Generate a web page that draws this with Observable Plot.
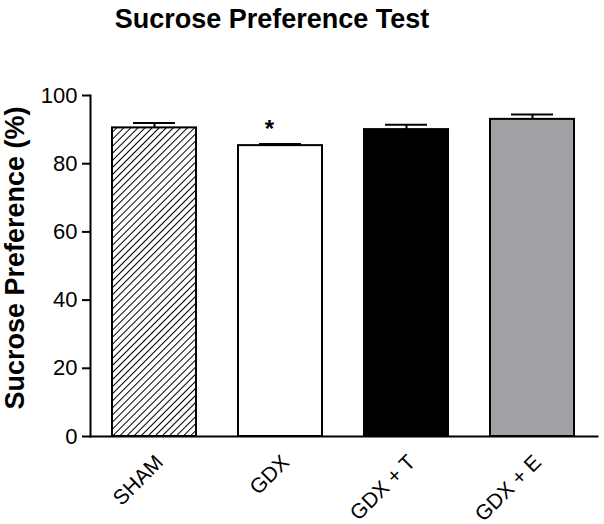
<!DOCTYPE html>
<html>
<head>
<meta charset="utf-8">
<script src="https://cdn.jsdelivr.net/npm/d3@7"></script>
<script src="https://cdn.jsdelivr.net/npm/@observablehq/plot@0.6"></script>
<style>
  body { margin: 0; background: #fff; font-family: "Liberation Sans", Arial, sans-serif; }
  #title { width: 544px; height: 60px; text-align: center; font-weight: bold; font-size: 27px; line-height: 38px; color: #000; }
</style>
</head>
<body>
<div id="title">Sucrose Preference Test</div>
<div id="chart"></div>
<script>
const groups = ["SHAM", "GDX", "GDX + T", "GDX + E"];
const means = [90.5, 85.3, 90.0, 93.0];
const sems = [1.4, 0.5, 1.4, 1.4];
const yTicks = [0, 20, 40, 60, 80, 100];
const sigGroups = ["GDX"];

const data = groups.map((g, i) => ({group: g, mean: means[i], top: means[i] + sems[i]}));
const sig = data.filter(d => sigGroups.includes(d.group));

const font = '"Liberation Sans", Arial, sans-serif';

const plot = Plot.plot({
  width: 604,
  height: 464,
  marginLeft: 90,
  marginRight: 7,
  marginTop: 35,
  marginBottom: 88,
  style: {fontFamily: font, color: "#000", background: "#fff", overflow: "visible"},
  x: {domain: groups, paddingInner: 0.33, paddingOuter: 0.17, axis: null},
  y: {domain: [0, 100], axis: null},
  color: {domain: groups, range: ["url(#hatch)", "#ffffff", "#000000", "#a2a2a6"]},
  marks: [
    Plot.ruleX(data, {x: "group", y1: "mean", y2: "top", stroke: "#000", strokeWidth: 2}),
    Plot.tickY(data, {x: "group", y: "top", stroke: "#000", strokeWidth: 2, inset: 21}),
    Plot.barY(data, {x: "group", y: "mean", fill: "group", stroke: "#000", strokeWidth: 2}),
    Plot.text(sig, {x: "group", y: "top", text: () => "*", dx: -11, dy: -7, lineAnchor: "bottom", fontSize: 24, fontWeight: "bold"}),
    Plot.axisY({ticks: yTicks, tickSize: 8, tickPadding: 5, tickFormat: d => d, fontSize: 22, strokeWidth: 2, label: null}),
    Plot.frame({anchor: "left", strokeWidth: 2}),
    Plot.frame({anchor: "bottom", strokeWidth: 2}),
    Plot.text(groups, {x: d => d, y: () => 0, text: d => d, rotate: -45, textAnchor: "end", lineAnchor: "bottom", dx: 10, dy: 27, fontSize: 21}),
    Plot.text(["Sucrose Preference (%)"], {frameAnchor: "left", textAnchor: "middle", dx: -75, dy: -8, rotate: -90, fontSize: 27, fontWeight: "bold"})
  ]
});

const svgNS = "http://www.w3.org/2000/svg";
const defs = document.createElementNS(svgNS, "defs");
defs.innerHTML = '<pattern id="hatch" patternUnits="userSpaceOnUse" width="5" height="5" patternTransform="rotate(45)"><rect width="5" height="5" fill="#fff"/><line x1="0" y1="0" x2="0" y2="5" stroke="#000" stroke-width="2"/></pattern>';
plot.insertBefore(defs, plot.firstChild);
document.getElementById("chart").appendChild(plot);
</script>
</body>
</html>
